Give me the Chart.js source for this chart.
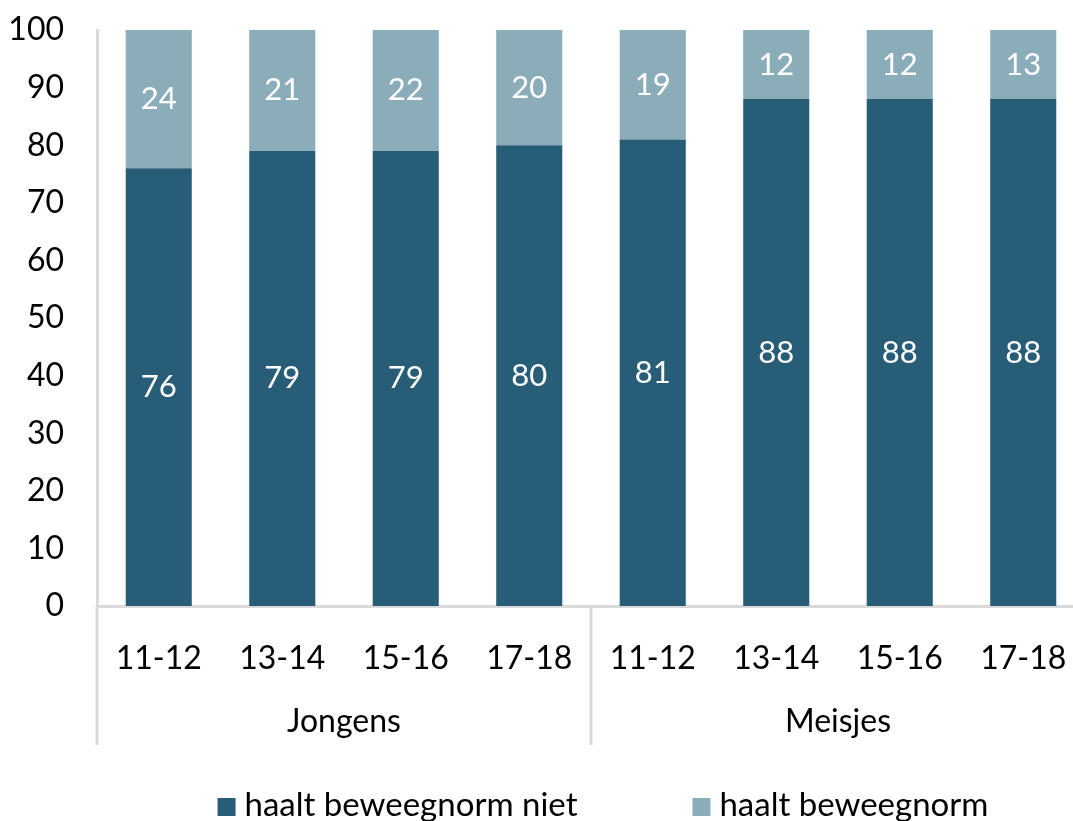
<!DOCTYPE html>
<html>
<head>
<meta charset="utf-8">
<script src="https://cdn.jsdelivr.net/npm/chart.js@4/dist/chart.umd.min.js"></script>
<style>
    html, body { margin: 0; padding: 0; background: #fff; overflow: hidden; }
    canvas { display: block; }
</style>
</head>
<body>
<canvas id="chart" width="1090" height="821"></canvas>
<script>
// ── data ─────────────────────────────────────────────
const ageGroups = ['11-12', '13-14', '15-16', '17-18', '11-12', '13-14', '15-16', '17-18'];
const sexGroups = ['Jongens', 'Meisjes'];
const haaltNiet = [76, 79, 79, 80, 81, 88, 88, 88];
const haaltWel = [24, 21, 22, 20, 19, 12, 12, 13];
const yTicks = [0, 10, 20, 30, 40, 50, 60, 70, 80, 90, 100];

const FONT = 'Lato, "Open Sans", sans-serif';
const AXIS_GREY = '#d9d9d9';
const DARK = '#285d78';
const LIGHT = '#8badb9';
const TXT = 32;

// white numbers in the middle of every stacked segment
const segmentLabels = {
    id: 'segmentLabels',
    afterDatasetsDraw(chart) {
        const { ctx, chartArea } = chart;
        ctx.save();
        ctx.fillStyle = '#ffffff';
        ctx.font = '31px ' + FONT;
        ctx.textAlign = 'center';
        ctx.textBaseline = 'middle';
        chart.data.datasets.forEach((ds, i) => {
            chart.getDatasetMeta(i).data.forEach((bar, j) => {
                const top = Math.max(bar.y, chartArea.top);
                const bottom = Math.min(bar.base, chartArea.bottom);
                ctx.fillText(String(ds.data[j]), bar.x, (top + bottom) / 2);
            });
        });
        ctx.restore();
    }
};

// second category row (Jongens / Meisjes), separators, and legend
const groupAxis = {
    id: 'groupAxis',
    afterDraw(chart) {
        const { ctx, chartArea, scales } = chart;
        const x = scales.x;
        const lineBottom = 745;
        const perGroup = ageGroups.length / sexGroups.length;

        ctx.save();
        ctx.strokeStyle = AXIS_GREY;
        ctx.lineWidth = 3;
        ctx.beginPath();
        ctx.moveTo(chartArea.left, chartArea.bottom);
        ctx.lineTo(chartArea.left, lineBottom);
        for (let g = 1; g < sexGroups.length; g++) {
            const sx = chartArea.left + (chartArea.right - chartArea.left) * g / sexGroups.length;
            ctx.moveTo(sx, chartArea.bottom);
            ctx.lineTo(sx, lineBottom);
        }
        ctx.stroke();

        ctx.fillStyle = '#000';
        ctx.font = TXT + 'px ' + FONT;
        ctx.textAlign = 'center';
        ctx.textBaseline = 'middle';
        sexGroups.forEach((name, g) => {
            const a = x.getPixelForValue(g * perGroup);
            const b = x.getPixelForValue(g * perGroup + perGroup - 1);
            ctx.fillText(name, (a + b) / 2, 722);
        });

        // legend
        const items = chart.data.datasets.map(ds => ({ text: ds.label, color: ds.backgroundColor }));
        const box = 18, gapBox = 9, gapItem = 115;
        ctx.font = '33px ' + FONT;
        ctx.textAlign = 'left';
        const widths = items.map(it => box + gapBox + ctx.measureText(it.text).width);
        const total = widths.reduce((s, w) => s + w, 0) + gapItem * (items.length - 1);
        let lx = 603 - total / 2;
        const ly = 805;
        items.forEach((it, i) => {
            ctx.fillStyle = it.color;
            ctx.fillRect(lx, ly - box / 2 + 2, box, box);
            ctx.fillStyle = '#000';
            ctx.fillText(it.text, lx + box + gapBox, ly);
            lx += widths[i] + gapItem;
        });
        ctx.restore();
    }
};

new Chart(document.getElementById('chart').getContext('2d'), {
    type: 'bar',
    data: {
        labels: ageGroups,
        datasets: [
            { label: 'haalt beweegnorm niet', data: haaltNiet, backgroundColor: DARK },
            { label: 'haalt beweegnorm', data: haaltWel, backgroundColor: LIGHT },
        ],
    },
    options: {
        responsive: false,
        animation: false,
        layout: { padding: { top: 30, right: 5, left: 0, bottom: 0 } },
        datasets: { bar: { categoryPercentage: 1, barPercentage: 0.535 } },
        plugins: {
            legend: { display: false },
            tooltip: { enabled: false },
        },
        scales: {
            x: {
                stacked: true,
                afterFit: (s) => {
                    s.height = 821 - 606;
                    s.paddingLeft = 0;
                    s.paddingRight = 0;
                },
                grid: { display: false, drawTicks: false },
                border: { display: true, color: AXIS_GREY, width: 3 },
                ticks: { color: '#000', font: { family: FONT, size: TXT }, padding: 33, maxRotation: 0 },
            },
            y: {
                stacked: true,
                min: 0,
                max: 100,
                afterFit: (s) => {
                    s.width = 97;
                    s.paddingTop = 0;
                    s.paddingBottom = 0;
                },
                afterBuildTicks: (s) => { s.ticks = yTicks.map(v => ({ value: v })); },
                grid: { display: false, drawTicks: false },
                border: { display: true, color: AXIS_GREY, width: 3 },
                ticks: { color: '#000', font: { family: FONT, size: TXT }, padding: 33 },
            },
        },
    },
    plugins: [segmentLabels, groupAxis],
});
</script>
</body>
</html>
